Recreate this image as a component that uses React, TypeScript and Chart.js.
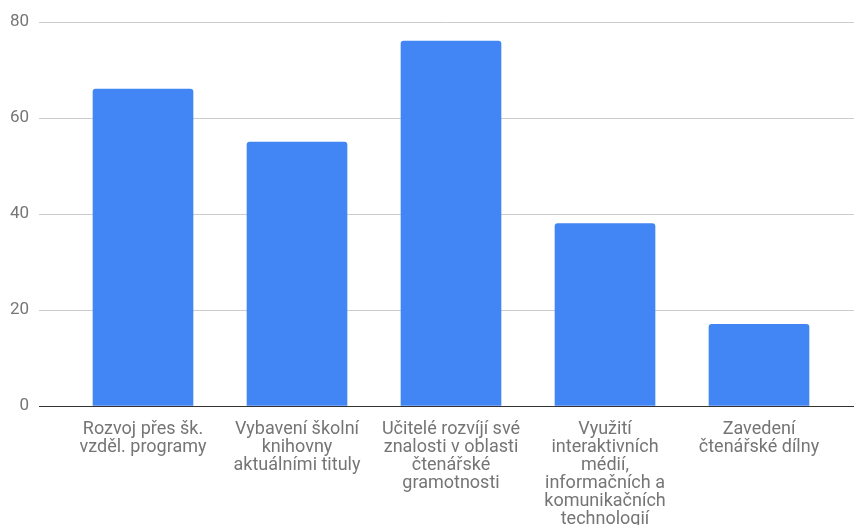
import React, { useEffect, useRef } from "react";
import { Chart, registerables } from "chart.js";

Chart.register(...registerables);

const categories: string[][] = [
  ["Rozvoj přes šk.", "vzděl. programy"],
  ["Vybavení školní", "knihovny", "aktuálními tituly"],
  ["Učitelé rozvíjí své", "znalosti v oblasti", "čtenářské", "gramotnosti"],
  ["Využití", "interaktivních", "médií,", "informačních a", "komunikačních", "technologií"],
  ["Zavedení", "čtenářské dílny"],
];
const values: number[] = [66, 55, 76, 38, 17];
const yTicks: number[] = [0, 20, 40, 60, 80];

const FONT = "Roboto, 'Noto Sans', sans-serif";
const TEXT = "#757575";

export default function App() {
  const ref = useRef<HTMLCanvasElement | null>(null);
  useEffect(() => {
    if (!ref.current) return;
    const chart = new Chart(ref.current, {
      type: "bar",
      data: {
        datasets: [
          {
            data: values.map((v, i) => ({ x: i, y: v })),
            backgroundColor: "#4285F4",
            barThickness: 100,
            borderRadius: { topLeft: 3, topRight: 3, bottomLeft: 0, bottomRight: 0 },
            borderSkipped: "bottom",
          },
        ],
      },
      options: {
        animation: false,
        responsive: true,
        maintainAspectRatio: false,
        layout: { padding: { top: 22, right: 0, left: 0, bottom: 0 } },
        plugins: { legend: { display: false }, tooltip: { enabled: false } },
        scales: {
          x: {
            type: "linear",
            offset: false,
            min: -0.5 - 27 / 154,
            max: 4.5 + 18 / 154,
            afterBuildTicks: (scale: any) => {
              scale.ticks = categories.map((_, i) => ({ value: i }));
            },
            afterFit: (scale: any) => {
              scale.height = 119;
            },
            grid: { display: false, offset: false },
            border: { display: true, color: "#333333", width: 1 },
            ticks: {
              autoSkip: false,
              maxRotation: 0,
              minRotation: 0,
              padding: 6,
              color: TEXT,
              font: { family: FONT, size: 18, lineHeight: "18px" },
              callback: (v: any) => categories[v as number] ?? "",
            },
          },
          y: {
            min: 0,
            max: 80,
            afterBuildTicks: (scale: any) => {
              scale.ticks = yTicks.map((v) => ({ value: v }));
            },
            afterFit: (scale: any) => {
              scale.width = 39;
            },
            grid: { color: "#cccccc", lineWidth: 1, drawTicks: false },
            border: { display: false },
            ticks: {
              padding: 10,
              color: TEXT,
              font: { family: FONT, size: 17 },
            },
          },
        },
      },
    });
    return () => chart.destroy();
  }, []);
  return (
    <div style={{ position: "fixed", left: 0, top: 0, width: 854, height: 525, background: "#fff" }}>
      <canvas ref={ref} />
    </div>
  );
}
